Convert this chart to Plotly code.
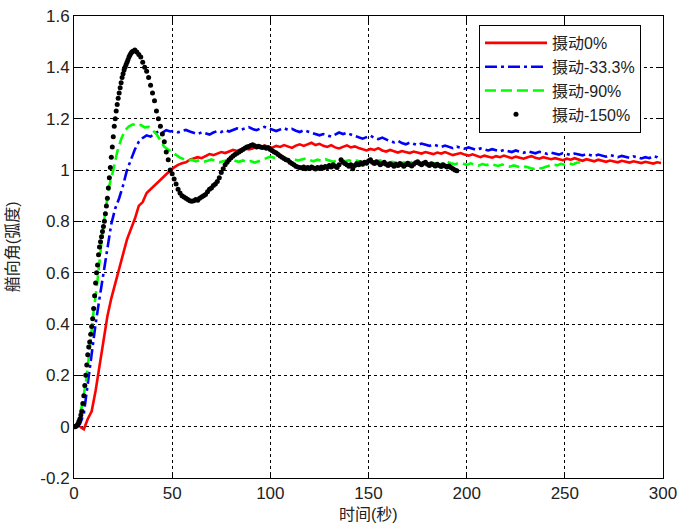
import numpy as np
import plotly.graph_objects as go

# Heading-angle step responses (rad) under four perturbation levels.
# Sampled every 2 s; start times differ per series.
red_t0, blue_t0, green_t0 = 3, 1, 0
red_vals = [
    0.00, -0.01, 0.03, 0.06, 0.14, 0.24, 0.33, 0.43, 0.50, 0.56,
    0.62, 0.68, 0.73, 0.77, 0.81, 0.86, 0.875, 0.91, 0.925, 0.94,
    0.955, 0.97, 0.985, 0.998, 1.01, 1.02, 1.026, 1.03, 1.04, 1.045,
    1.05, 1.046, 1.055, 1.062, 1.058, 1.063, 1.07, 1.066, 1.072, 1.078,
    1.074, 1.08, 1.086, 1.08, 1.084, 1.092, 1.088, 1.095, 1.09, 1.087,
    1.094, 1.09, 1.097, 1.092, 1.086, 1.095, 1.1, 1.094, 1.1, 1.106,
    1.097, 1.102, 1.094, 1.09, 1.097, 1.088, 1.084, 1.09, 1.096, 1.088,
    1.092, 1.086, 1.08, 1.076, 1.082, 1.078, 1.085, 1.076, 1.072, 1.078,
    1.073, 1.068, 1.074, 1.07, 1.066, 1.072, 1.068, 1.064, 1.07, 1.066,
    1.062, 1.068, 1.064, 1.07, 1.063, 1.058, 1.062, 1.066, 1.06, 1.056,
    1.061, 1.055, 1.05, 1.056, 1.052, 1.048, 1.054, 1.05, 1.056, 1.05,
    1.046, 1.052, 1.048, 1.044, 1.05, 1.054, 1.048, 1.044, 1.05, 1.046,
    1.042, 1.046, 1.041, 1.038, 1.044, 1.04, 1.046, 1.04, 1.036, 1.042,
    1.038, 1.034, 1.04, 1.036, 1.032, 1.037, 1.034, 1.03, 1.036, 1.032,
    1.029, 1.034, 1.03, 1.027, 1.032, 1.028, 1.025, 1.03, 1.027,
]
blue_vals = [
    0.0, 0.01, 0.05, 0.17, 0.30, 0.40, 0.50, 0.60, 0.70, 0.79,
    0.85, 0.89, 0.94, 1.0, 1.04, 1.08, 1.11, 1.125, 1.135, 1.13,
    1.142, 1.15, 1.146, 1.155, 1.15, 1.153, 1.147, 1.152, 1.156, 1.15,
    1.145, 1.14, 1.147, 1.143, 1.138, 1.146, 1.152, 1.148, 1.155, 1.15,
    1.156, 1.162, 1.157, 1.162, 1.167, 1.16, 1.155, 1.162, 1.168, 1.163,
    1.158, 1.152, 1.158, 1.163, 1.156, 1.16, 1.153, 1.148, 1.155, 1.15,
    1.145, 1.14, 1.135, 1.14, 1.136, 1.13, 1.138, 1.146, 1.14, 1.145,
    1.138, 1.132, 1.128, 1.122, 1.128, 1.134, 1.125, 1.12, 1.126, 1.118,
    1.112, 1.108, 1.114, 1.105, 1.1, 1.107, 1.102, 1.097, 1.103, 1.098,
    1.094, 1.099, 1.093, 1.09, 1.095, 1.09, 1.085, 1.091, 1.086, 1.083,
    1.088, 1.082, 1.078, 1.084, 1.08, 1.076, 1.081, 1.077, 1.073, 1.078,
    1.074, 1.07, 1.076, 1.071, 1.067, 1.073, 1.069, 1.065, 1.071, 1.066,
    1.063, 1.068, 1.064, 1.06, 1.066, 1.062, 1.058, 1.064, 1.06, 1.057,
    1.062, 1.058, 1.054, 1.06, 1.056, 1.052, 1.058, 1.054, 1.05, 1.055,
    1.051, 1.047, 1.053, 1.048, 1.045, 1.05, 1.046, 1.054, 1.05, 1.04,
]
green_vals = [
    0.0, 0.01, 0.08, 0.17, 0.30, 0.45, 0.57, 0.72, 0.84, 0.94,
    1.0, 1.07, 1.12, 1.155, 1.17, 1.178, 1.172, 1.176, 1.166, 1.168,
    1.155, 1.14, 1.115, 1.09, 1.08, 1.07, 1.058, 1.048, 1.042, 1.036,
    1.04, 1.034, 1.038, 1.032, 1.036, 1.041, 1.035, 1.03, 1.034, 1.038,
    1.042, 1.036, 1.032, 1.037, 1.031, 1.035, 1.029, 1.034, 1.04, 1.046,
    1.052, 1.048, 1.044, 1.05, 1.043, 1.038, 1.042, 1.037, 1.041, 1.045,
    1.039, 1.034, 1.04, 1.036, 1.042, 1.037, 1.032, 1.036, 1.04, 1.034,
    1.038, 1.033, 1.037, 1.032, 1.028, 1.033, 1.029, 1.034, 1.038, 1.031,
    1.027, 1.032, 1.028, 1.024, 1.03, 1.026, 1.031, 1.027, 1.023, 1.028,
    1.024, 1.029, 1.025, 1.021, 1.027, 1.032, 1.026, 1.022, 1.028, 1.024,
    1.02, 1.026, 1.022, 1.017, 1.023, 1.019, 1.024, 1.02, 1.016, 1.021,
    1.017, 1.013, 1.018, 1.014, 1.009, 1.013, 1.008, 1.004, 1.01, 1.006,
    1.012, 1.017, 1.022, 1.018, 1.024, 1.02, 1.026, 1.022, 1.028, 1.03,
]
# -150% case: every 0.5 s up to 30 s, then every 1 s.
black_rise = [
    0.0, 0.0, 0.002, 0.005, 0.01, 0.02, 0.03, 0.045, 0.06, 0.09,
    0.12, 0.16, 0.2, 0.24, 0.28, 0.31, 0.33, 0.36, 0.39, 0.42,
    0.46, 0.51, 0.56, 0.6, 0.63, 0.67, 0.7, 0.72, 0.74, 0.76,
    0.78, 0.8, 0.83, 0.86, 0.89, 0.93, 0.97, 1.01, 1.05, 1.09,
    1.13, 1.17, 1.2, 1.23, 1.255, 1.28, 1.3, 1.32, 1.34, 1.36,
    1.375, 1.39, 1.4, 1.41, 1.42, 1.43, 1.44, 1.448, 1.455, 1.46,
    1.463,
]
black_rest = [
    1.468, 1.46, 1.45, 1.44, 1.42, 1.4, 1.385, 1.36, 1.33, 1.3,
    1.27, 1.23, 1.2, 1.17, 1.14, 1.11, 1.07, 1.04, 1.0, 0.985,
    0.965, 0.945, 0.925, 0.91, 0.9, 0.895, 0.89, 0.885, 0.88, 0.878,
    0.88, 0.885, 0.882, 0.89, 0.895, 0.9, 0.905, 0.915, 0.925, 0.93,
    0.94, 0.945, 0.955, 0.97, 0.99, 1.005, 1.02, 1.03, 1.04, 1.048,
    1.055, 1.06, 1.065, 1.07, 1.075, 1.08, 1.085, 1.09, 1.092, 1.095,
    1.098, 1.094, 1.09, 1.093, 1.09, 1.088, 1.09, 1.085, 1.087, 1.08,
    1.075, 1.07, 1.066, 1.06, 1.055, 1.05, 1.045, 1.04, 1.038, 1.03,
    1.025, 1.02, 1.015, 1.012, 1.01, 1.008, 1.012, 1.005, 1.01, 1.006,
    1.012, 1.008, 1.004, 1.01, 1.006, 1.012, 1.008, 1.014, 1.01, 1.018,
    1.012, 1.02, 1.015, 1.01, 1.02, 1.04, 1.03, 1.025, 1.02, 1.015,
    1.02, 1.005, 1.018, 1.025, 1.02, 1.028, 1.022, 1.03, 1.026, 1.035,
    1.04, 1.03, 1.025, 1.032, 1.027, 1.02, 1.025, 1.03, 1.022, 1.018,
    1.024, 1.02, 1.015, 1.022, 1.018, 1.025, 1.02, 1.015, 1.02, 1.026,
    1.02, 1.016, 1.022, 1.028, 1.032, 1.025, 1.02, 1.026, 1.03, 1.022,
    1.018, 1.024, 1.02, 1.016, 1.022, 1.018, 1.014, 1.02, 1.016, 1.012,
    1.016, 1.01, 1.005, 1.0, 0.997,
]

names = ["摄动0%", "摄动-33.3%", "摄动-90%", "摄动-150%"]
x_ticks = [0, 50, 100, 150, 200, 250, 300]
y_ticks = [-0.2, 0, 0.2, 0.4, 0.6, 0.8, 1, 1.2, 1.4, 1.6]
y_tick_text = ["-0.2", "0", "0.2", "0.4", "0.6", "0.8", "1", "1.2", "1.4", "1.6"]

t_red = red_t0 + 2 * np.arange(len(red_vals))
t_blue = blue_t0 + 2 * np.arange(len(blue_vals))
t_green = green_t0 + 2 * np.arange(len(green_vals))
t_black = np.concatenate([0.5 * np.arange(len(black_rise)),
                          31 + np.arange(len(black_rest))])
black_vals = black_rise + black_rest

FONT = "Liberation Sans, Arial, Noto Sans CJK SC, sans-serif"

fig = go.Figure()
fig.add_trace(go.Scatter(x=t_red, y=red_vals, mode="lines", name=names[0],
                         line=dict(color="#ff0000", width=2.6)))
fig.add_trace(go.Scatter(x=t_blue, y=blue_vals, mode="lines", name=names[1],
                         line=dict(color="#0000ff", width=2.6, dash="12px,4px,3px,4px")))
fig.add_trace(go.Scatter(x=t_green, y=green_vals, mode="lines", name=names[2],
                         line=dict(color="#00ff00", width=2.6, dash="11px,5px")))
fig.add_trace(go.Scatter(x=t_black, y=black_vals, mode="markers", name=names[3],
                         marker=dict(color="#000000", size=5)))

axis_common = dict(
    showline=True, linecolor="#000000", linewidth=1, mirror="ticks",
    ticks="inside", ticklen=6, tickcolor="#000000", automargin=False,
    showgrid=True, gridcolor="#000000", gridwidth=1, griddash="3px,3px",
    zeroline=False, tickfont=dict(family=FONT, size=17, color="#222222"),
)
fig.update_xaxes(range=[0, 300], tickvals=x_ticks, **axis_common)
fig.update_yaxes(range=[-0.2, 1.6], tickvals=y_ticks, ticktext=y_tick_text,
                 **axis_common)

fig.update_layout(
    width=679, height=527,
    margin=dict(l=74, r=16, t=16, b=49),
    paper_bgcolor="#ffffff", plot_bgcolor="#ffffff",
    font=dict(family=FONT, size=17, color="#222222"),
    showlegend=True,
    legend=dict(x=0.6876, y=0.9805, xanchor="left", yanchor="top",
                bgcolor="#ffffff", bordercolor="#000000", borderwidth=1,
                font=dict(family=FONT, size=16, color="#222222"),
                itemwidth=62, tracegroupgap=0),
    annotations=[
        dict(text="时间(秒)", xref="paper", yref="paper", x=0.5, y=-0.08,
             xanchor="center", yanchor="middle", showarrow=False,
             font=dict(family=FONT, size=16, color="#222222")),
        dict(text="艏向角(弧度)", xref="paper", yref="paper", x=-0.105, y=0.5,
             xanchor="center", yanchor="middle", textangle=-90, showarrow=False,
             font=dict(family=FONT, size=16, color="#222222")),
    ],
)

fig.write_html("out.html")
